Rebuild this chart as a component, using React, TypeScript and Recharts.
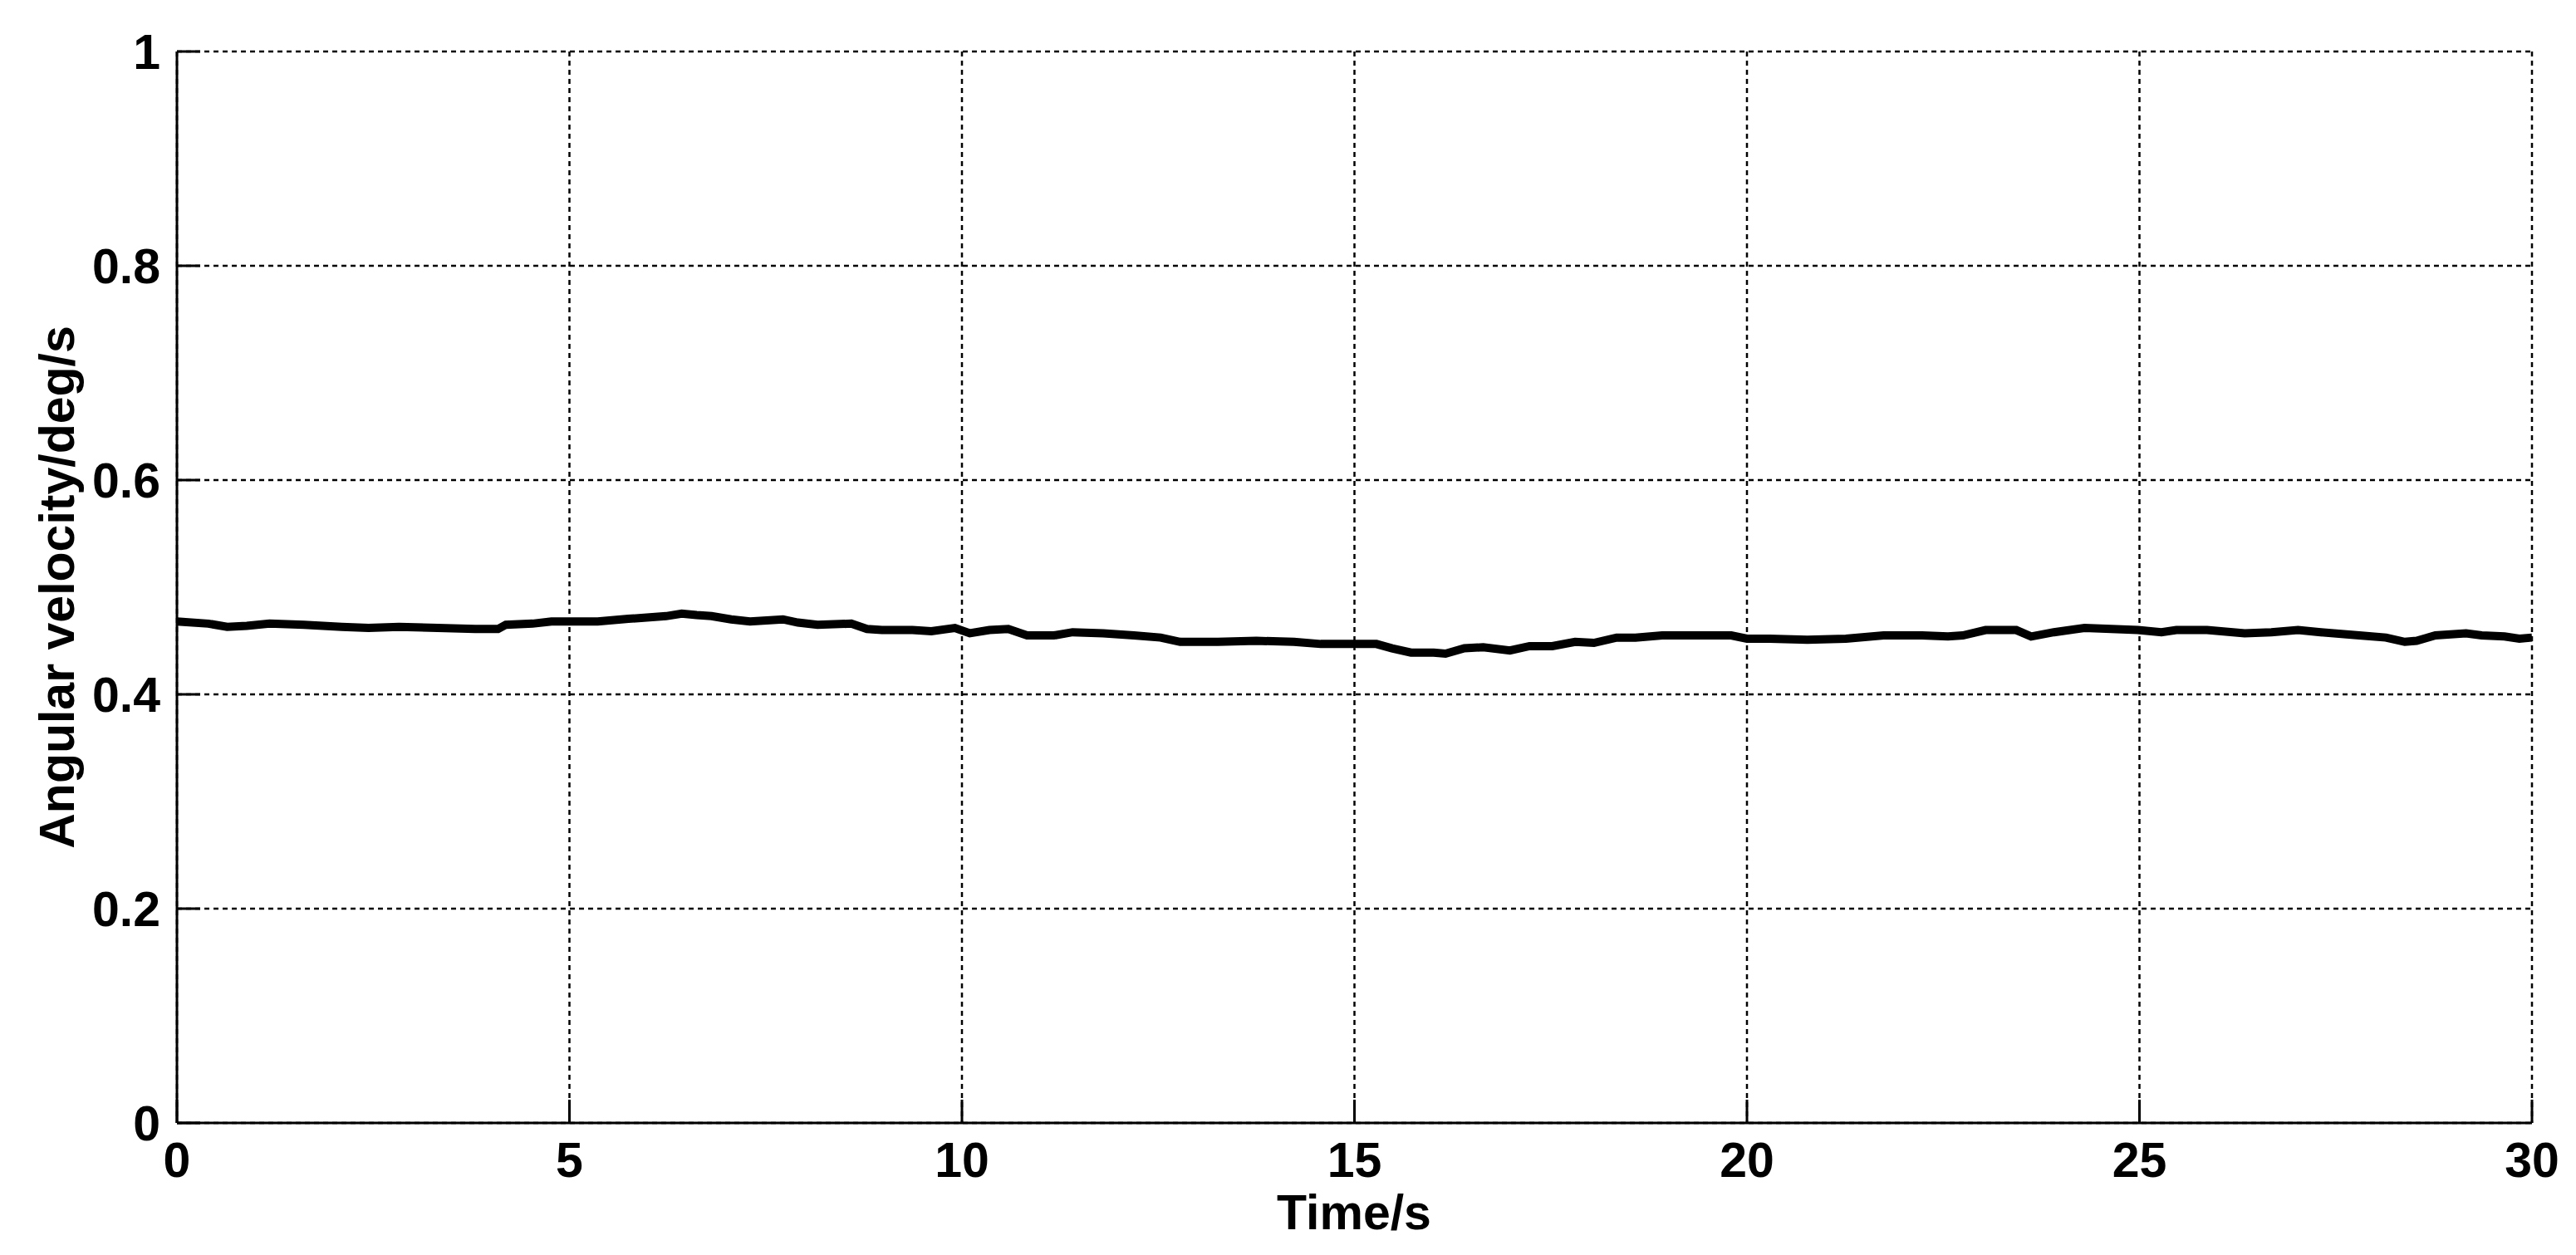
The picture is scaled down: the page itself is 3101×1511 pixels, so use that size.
import React from 'react';
import { LineChart, Line, XAxis, YAxis, CartesianGrid, Label } from 'recharts';

// time (s)
const timeS = [
  0, 0.4, 0.64, 0.89, 1.18, 1.62, 2.1, 2.44, 2.83, 3.32, 3.8, 4.09, 4.19, 4.53, 4.77,
  5.02, 5.36, 5.75, 6.23, 6.43, 6.62, 6.81, 7.06, 7.3, 7.72, 7.91, 8.16, 8.59, 8.79,
  8.98, 9.37, 9.61, 9.91, 10.1, 10.35, 10.59, 10.83, 11.17, 11.41, 11.8, 12.19, 12.53,
  12.78, 13.26, 13.75, 14.23, 14.57, 14.98, 15.28, 15.48, 15.72, 16.01, 16.16, 16.4,
  16.64, 16.98, 17.23, 17.52, 17.81, 18.05, 18.34, 18.58, 18.92, 19.32, 19.8, 20.0,
  20.29, 20.77, 21.26, 21.74, 22.23, 22.56, 22.75, 23.04, 23.43, 23.62, 23.91, 24.3,
  24.64, 24.98, 25.28, 25.47, 25.86, 26.34, 26.68, 27.02, 27.31, 27.8, 28.14, 28.38,
  28.53, 28.77, 29.16, 29.36, 29.65, 29.84, 30,
];

// angular velocity (deg/s)
const angVel = [
  0.468, 0.466, 0.463, 0.464, 0.466, 0.465, 0.463, 0.462, 0.463, 0.462, 0.461, 0.461, 0.465, 0.466, 0.468,
  0.468, 0.468, 0.4705, 0.473, 0.4754, 0.474, 0.473, 0.47, 0.468, 0.47, 0.467, 0.465, 0.466, 0.461,
  0.46, 0.46, 0.459, 0.462, 0.457, 0.46, 0.461, 0.455, 0.455, 0.458, 0.457, 0.455, 0.453,
  0.449, 0.449, 0.45, 0.449, 0.447, 0.447, 0.447, 0.443, 0.439, 0.439, 0.438, 0.443,
  0.444, 0.441, 0.445, 0.445, 0.449, 0.448, 0.453, 0.453, 0.455, 0.455, 0.455, 0.452,
  0.452, 0.451, 0.452, 0.455, 0.455, 0.454, 0.455, 0.46, 0.46, 0.454, 0.458, 0.462,
  0.461, 0.46, 0.458, 0.46, 0.46, 0.457, 0.458, 0.46, 0.458, 0.455, 0.453, 0.449,
  0.45, 0.455, 0.457, 0.455, 0.454, 0.452, 0.453,
];

const xTicks = [0, 5, 10, 15, 20, 25, 30];
const yTicks = [0, 0.2, 0.4, 0.6, 0.8, 1];

const data = timeS.map((t, i) => ({ t, w: angVel[i] }));

const FONT = '"Liberation Sans", Arial, Helvetica, sans-serif';
const FS = 59;

const XTick = ({ x, payload }: any) => (
  <text x={x} y={1417} textAnchor="middle" fontFamily={FONT} fontSize={FS} fontWeight="bold" fill="#000">
    {payload.value}
  </text>
);

const YTick = ({ y, payload }: any) => {
  const v = payload.value;
  const txt = v === 0 || v === 1 ? String(v) : v.toFixed(1);
  return (
    <text x={193} y={y + 21} textAnchor="end" fontFamily={FONT} fontSize={FS} fontWeight="bold" fill="#000">
      {txt}
    </text>
  );
};

export default function App() {
  return (
    <div style={{ position: 'absolute', left: 0, top: 0, background: '#fff' }}>
      <LineChart
        width={3101}
        height={1511}
        data={data}
        margin={{ top: 62, right: 53, left: 63, bottom: 99 }}
      >
        <CartesianGrid
          xAxisId="b"
          yAxisId="l"
          stroke="#000"
          strokeWidth={2.5}
          strokeDasharray="6 5"
          horizontalValues={yTicks}
          verticalValues={xTicks}
        />
        <XAxis
          xAxisId="b"
          dataKey="t"
          type="number"
          domain={[0, 30]}
          ticks={xTicks}
          height={60}
          axisLine={{ stroke: '#000', strokeWidth: 3 }}
          tickLine={{ stroke: '#000', strokeWidth: 3 }}
          tickSize={-28}
          tick={<XTick />}
        >
          <Label
            content={() => (
              <text x={1630} y={1480} textAnchor="middle" fontFamily={FONT} fontSize={FS} fontWeight="bold" fill="#000">
                Time/s
              </text>
            )}
          />
        </XAxis>
        <XAxis
          xAxisId="tp"
          orientation="top"
          type="number"
          domain={[0, 30]}
          ticks={xTicks}
          height={0}
          axisLine={{ stroke: '#000', strokeWidth: 3 }}
          tickLine={{ stroke: '#000', strokeWidth: 3 }}
          tickSize={-28}
          tick={false}
        />
        <YAxis
          yAxisId="l"
          type="number"
          domain={[0, 1]}
          ticks={yTicks}
          width={150}
          axisLine={{ stroke: '#000', strokeWidth: 3 }}
          tickLine={{ stroke: '#000', strokeWidth: 3 }}
          tickSize={-28}
          tick={<YTick />}
        >
          <Label
            content={() => (
              <text
                x={69}
                y={707}
                transform="rotate(-90 69 707)"
                textAnchor="middle"
                dominantBaseline="central"
                fontFamily={FONT}
                fontSize={FS}
                fontWeight="bold"
                fill="#000"
              >
                Angular velocity/deg/s
              </text>
            )}
          />
        </YAxis>
        <YAxis
          yAxisId="r"
          orientation="right"
          type="number"
          domain={[0, 1]}
          ticks={yTicks}
          width={0}
          axisLine={{ stroke: '#000', strokeWidth: 3 }}
          tickLine={{ stroke: '#000', strokeWidth: 3 }}
          tickSize={-28}
          tick={false}
        />
        <Line
          xAxisId="b"
          yAxisId="l"
          type="linear"
          dataKey="w"
          stroke="#000"
          strokeWidth={10}
          dot={false}
          isAnimationActive={false}
        />
      </LineChart>
    </div>
  );
}
